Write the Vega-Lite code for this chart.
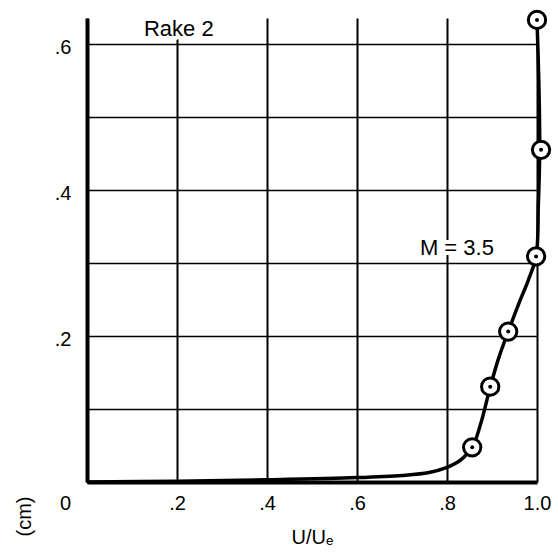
{
  "$schema": "https://vega.github.io/schema/vega-lite/v6.json",
  "width": 450,
  "height": 464,
  "autosize": {"type": "none"},
  "padding": {"left": 87, "top": 18, "right": 21, "bottom": 74},
  "background": "white",
  "config": {"view": {"stroke": null}, "font": "Liberation Sans"},
  "datasets": {
    "curve": [
      {"u": 0.0, "y": 0.0},
      {"u": 0.2, "y": 0.001},
      {"u": 0.4, "y": 0.003},
      {"u": 0.6, "y": 0.006},
      {"u": 0.7, "y": 0.009},
      {"u": 0.76, "y": 0.013},
      {"u": 0.8, "y": 0.02},
      {"u": 0.83, "y": 0.03},
      {"u": 0.856, "y": 0.0475},
      {"u": 0.875, "y": 0.08},
      {"u": 0.896, "y": 0.13},
      {"u": 0.915, "y": 0.17},
      {"u": 0.936, "y": 0.206},
      {"u": 0.96, "y": 0.245},
      {"u": 0.981, "y": 0.277},
      {"u": 0.998, "y": 0.309},
      {"u": 1.003, "y": 0.38},
      {"u": 1.006, "y": 0.455},
      {"u": 1.004, "y": 0.55},
      {"u": 1.0, "y": 0.633}
    ],
    "points": [
      {"u": 0.856, "y": 0.0475},
      {"u": 0.896, "y": 0.1306},
      {"u": 0.936, "y": 0.206},
      {"u": 0.998, "y": 0.309},
      {"u": 1.009, "y": 0.455},
      {"u": 1.0, "y": 0.633}
    ],
    "labels": [
      {"u": 0.204, "y": 0.62, "label": "Rake 2"},
      {"u": 0.822, "y": 0.32, "label": "M = 3.5"}
    ]
  },
  "encoding": {
    "x": {
      "field": "u",
      "type": "quantitative",
      "scale": {"domain": [0, 1], "nice": false, "zero": false},
      "axis": {
        "values": [0, 0.2, 0.4, 0.6, 0.8, 1.0],
        "labelExpr": "datum.value == 0 ? '0' : (datum.value == 1 ? '1.0' : replace(format(datum.value, '.1f'), '0.', '.'))",
        "labelFont": "Liberation Sans",
        "labelFontSize": 20,
        "labelColor": "black",
        "labelPadding": 11,
        "labelBaseline": "top",
        "labelFlush": false,
        "labelOverlap": false,
        "labelBound": false,
        "labelOffset": {"condition": {"test": "datum.value == 0", "value": -22}, "value": 0},
        "ticks": false,
        "domainColor": "black",
        "domainWidth": 4,
        "grid": true,
        "gridColor": "black",
        "gridWidth": 2,
        "gridOpacity": 1,
        "title": "U/Uₑ",
        "titleFont": "Liberation Sans",
        "titleFontSize": 20,
        "titleFontWeight": "normal",
        "titleColor": "black",
        "titleBaseline": "alphabetic",
        "titleY": 61
      }
    },
    "y": {
      "field": "y",
      "type": "quantitative",
      "scale": {"domain": [0, 0.6356], "nice": false, "zero": false},
      "axis": {
        "values": [0, 0.1, 0.2, 0.3, 0.4, 0.5, 0.6],
        "labelExpr": "(round(datum.value * 10) % 2 == 0 && datum.value > 0) ? replace(format(datum.value, '.1f'), '0.', '.') : ''",
        "labelFont": "Liberation Sans",
        "labelFontSize": 20,
        "labelColor": "black",
        "labelPadding": 16,
        "labelOffset": 4,
        "labelOverlap": false,
        "labelBound": false,
        "labelFlush": false,
        "ticks": false,
        "domainColor": "black",
        "domainWidth": 4,
        "grid": true,
        "gridColor": "black",
        "gridWidth": 1.5,
        "gridOpacity": 1,
        "title": "(cm)",
        "titleFont": "Liberation Sans",
        "titleFontSize": 20,
        "titleFontWeight": "normal",
        "titleColor": "black",
        "titleAngle": 270,
        "titleAlign": "center",
        "titleBaseline": "middle",
        "titleX": -63,
        "titleY": 498
      }
    }
  },
  "layer": [
    {
      "data": {"name": "labels"},
      "mark": {"type": "text", "font": "Liberation Sans", "fontSize": 22, "stroke": "white", "strokeWidth": 8, "strokeJoin": "round", "fill": "white", "align": "center", "baseline": "middle"},
      "encoding": {"text": {"field": "label"}}
    },
    {
      "data": {"name": "curve"},
      "mark": {"type": "line", "interpolate": "catmull-rom", "color": "black", "strokeWidth": 3.5, "clip": false},
      "encoding": {"order": {"field": "y", "type": "quantitative"}}
    },
    {
      "data": {"name": "points"},
      "mark": {"type": "point", "shape": "circle", "fill": "white", "stroke": "black", "strokeWidth": 3, "size": 300, "opacity": 1, "clip": false}
    },
    {
      "data": {"name": "points"},
      "mark": {"type": "point", "shape": "circle", "filled": true, "color": "black", "size": 16, "opacity": 1, "clip": false}
    },
    {
      "data": {"name": "labels"},
      "mark": {"type": "text", "font": "Liberation Sans", "fontSize": 22, "color": "black", "align": "center", "baseline": "middle"},
      "encoding": {"text": {"field": "label"}}
    }
  ]
}
